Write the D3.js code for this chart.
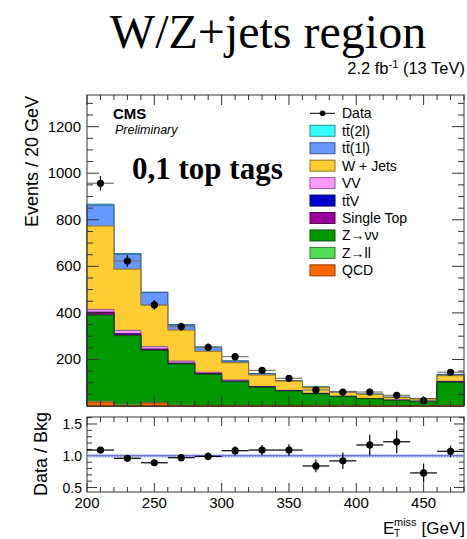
<!DOCTYPE html>
<html>
<head>
<meta charset="utf-8">
<script src="https://cdn.jsdelivr.net/npm/d3@7"></script>
<style>
  body { margin: 0; background: #fff; }
  svg { display: block; font-family: "Liberation Sans", Arial, sans-serif; }
</style>
</head>
<body>
<svg id="chart" width="467" height="539"></svg>
<script>
// bin low edges (GeV), 20 GeV wide
const binEdges = [200, 220, 240, 260, 280, 300, 320, 340, 360, 380, 400, 420, 440, 460, 480];
const dataCounts = [957, 623, 434, 341, 252, 212, 153, 119, 69, 60, 60, 46, 23, 145];
const dataErr = [31, 25, 21, 18, 16, 15, 12, 11, 8, 8, 8, 7, 5, 12];

// stacked backgrounds, bottom first
const qcd   = [17, 3, 13, 2, 1, 1, 1, 0, 0, 0, 0, 0, 0, 1];
const zll   = [7, 6, 4, 3, 2, 2, 2, 1, 1, 1, 1, 0.5, 0.5, 1];
const znn   = [367, 293, 222, 175, 133, 101, 77, 63, 51, 39, 30, 23.5, 17.5, 100];
const stop  = [10, 6, 4, 3, 3, 2, 1, 1, 1, 0.8, 0.5, 0.4, 0.3, 1];
const ttv   = [2, 2, 1, 1, 1, 1, 1, 0.5, 0.5, 0.4, 0.3, 0.3, 0.2, 1];
const vv    = [12, 15, 11, 9, 5, 5, 2, 1.5, 1.5, 1, 0.7, 0.5, 0.5, 2];
const wjets = [358, 263, 179, 133, 90, 74, 49, 40, 24, 17, 17.5, 11, 11, 24];
const tt1l  = [90, 64, 53, 22, 17, 7, 6, 2, 2.5, 3, 1, 1.5, 1.5, 5];
const tt2l  = [4, 3, 2, 2, 2, 1, 1, 0.5, 0.5, 0.5, 0.3, 0.3, 0.3, 1];

const ratioVals = [1.09, 0.96, 0.89, 0.97, 0.99, 1.08, 1.09, 1.09, 0.84, 0.92, 1.17, 1.22, 0.73, 1.07];
const ratioErr  = [0.04, 0.04, 0.04, 0.05, 0.06, 0.07, 0.08, 0.09, 0.1, 0.13, 0.16, 0.18, 0.15, 0.09];

const yTicksMain = [200, 400, 600, 800, 1000, 1200];
const yTicksRatio = [0.5, 1.0, 1.5];
const xTicks = [200, 250, 300, 350, 400, 450];

const stackSeries = [
  { name: "QCD", vals: qcd, color: "#ff6600" },
  { name: "Z\u2192ll", vals: zll, color: "#55dd55" },
  { name: "Z\u2192\u03bd\u03bd", vals: znn, color: "#009900" },
  { name: "Single Top", vals: stop, color: "#990099" },
  { name: "tt\u0304V", vals: ttv, color: "#0000cc" },
  { name: "VV", vals: vv, color: "#ff99ff" },
  { name: "W + Jets", vals: wjets, color: "#ffcc33" },
  { name: "tt\u0304(1l)", vals: tt1l, color: "#6699ff" },
  { name: "tt\u0304(2l)", vals: tt2l, color: "#33ffff" }
];

const svg = d3.select("#chart");
const L = 87, R = 464, mainTop = 95, mainBot = 406, ratTop = 417, ratBot = 492;

const x = d3.scaleLinear().domain([200, 480]).range([L, R]);
const y = d3.scaleLinear().domain([0, 1336]).range([mainBot, mainTop]);
const yr = d3.scaleLinear().domain([0.43, 1.61]).range([ratBot, ratTop]);

const centers = binEdges.slice(0, -1).map(e => e + 10);

// cumulative stack
let cum = new Array(dataCounts.length).fill(0);
const layers = stackSeries.map(s => {
  cum = cum.map((c, i) => c + s.vals[i]);
  return { ...s, top: cum.slice() };
});

const area = d3.area()
  .x(d => x(d.e))
  .y0(mainBot)
  .y1(d => y(d.v))
  .curve(d3.curveStepAfter);

const gStack = svg.append("g");
layers.slice().reverse().forEach(l => {
  const pts = binEdges.map((e, i) => ({ e: e, v: l.top[Math.min(i, l.top.length - 1)] }));
  gStack.append("path")
    .attr("d", area(pts))
    .attr("fill", l.color)
    .attr("stroke", d3.color(l.color).darker(1.6))
    .attr("stroke-width", 1);
});

// data points main
const gData = svg.append("g");
centers.forEach((c, i) => {
  gData.append("line")
    .attr("x1", x(c - 10)).attr("x2", x(c + 10))
    .attr("y1", y(dataCounts[i])).attr("y2", y(dataCounts[i]))
    .attr("stroke", "#777").attr("stroke-width", 1.2);
  gData.append("line")
    .attr("x1", x(c)).attr("x2", x(c))
    .attr("y1", y(dataCounts[i] - dataErr[i])).attr("y2", y(dataCounts[i] + dataErr[i]))
    .attr("stroke", "#000").attr("stroke-width", 1.2);
  gData.append("circle")
    .attr("cx", x(c)).attr("cy", y(dataCounts[i])).attr("r", 3.6).attr("fill", "#000");
});

// frames and ticks
function frame(top, bot) {
  svg.append("rect")
    .attr("x", L).attr("y", top).attr("width", R - L).attr("height", bot - top)
    .attr("fill", "none").attr("stroke", "#333").attr("stroke-width", 1);
}
frame(mainTop, mainBot);
frame(ratTop, ratBot);

function xTickMarks(top, bot, major, minor) {
  for (let v = 200; v <= 480; v += 10) {
    const len = v % 50 === 0 ? major : minor;
    const px = x(v);
    svg.append("line").attr("x1", px).attr("x2", px).attr("y1", bot).attr("y2", bot - len)
      .attr("stroke", "#333");
    svg.append("line").attr("x1", px).attr("x2", px).attr("y1", top).attr("y2", top + len)
      .attr("stroke", "#333");
  }
}
xTickMarks(mainTop, mainBot, 10, 5);
xTickMarks(ratTop, ratBot, 9, 5);

function yTickMarks(scale, lo, hi, step, majorStep, major, minor) {
  for (let v = lo; v <= hi + 1e-9; v += step) {
    const isMajor = Math.abs(v / majorStep - Math.round(v / majorStep)) < 1e-6;
    const len = isMajor ? major : minor;
    const py = scale(v);
    svg.append("line").attr("x1", L).attr("x2", L + len).attr("y1", py).attr("y2", py).attr("stroke", "#333");
    svg.append("line").attr("x1", R).attr("x2", R - len).attr("y1", py).attr("y2", py).attr("stroke", "#333");
  }
}
yTickMarks(y, 50, 1300, 50, 200, 12, 6);
yTickMarks(yr, 0.5, 1.6, 0.1, 0.5, 10, 5);

svg.append("g").selectAll("text").data(yTicksMain).enter().append("text")
  .attr("x", L - 6).attr("y", d => y(d) + 5)
  .attr("text-anchor", "end").style("font-size", "15px").text(d => d);

svg.append("g").selectAll("text").data(yTicksRatio).enter().append("text")
  .attr("x", L - 5).attr("y", d => yr(d) + 5)
  .attr("text-anchor", "end").style("font-size", "14px").text(d => d3.format(".1f")(d));

svg.append("g").selectAll("text").data(xTicks).enter().append("text")
  .attr("x", d => x(d)).attr("y", 508)
  .attr("text-anchor", "middle").style("font-size", "15px").text(d => d);

// ratio panel band and line
const defs = svg.append("defs");
const pat = defs.append("pattern").attr("id", "hatch").attr("patternUnits", "userSpaceOnUse")
  .attr("width", 3).attr("height", 3);
pat.append("rect").attr("width", 3).attr("height", 3).attr("fill", "#dde0fb");
pat.append("rect").attr("width", 1.5).attr("height", 1.5).attr("fill", "#99a3ee");

svg.append("rect")
  .attr("x", L + 0.5).attr("width", R - L - 1)
  .attr("y", yr(1.03)).attr("height", yr(0.97) - yr(1.03))
  .attr("fill", "url(#hatch)");
svg.append("line")
  .attr("x1", L).attr("x2", R).attr("y1", yr(1)).attr("y2", yr(1))
  .attr("stroke", "#5050c8").attr("stroke-width", 1.2);

const gRat = svg.append("g");
centers.forEach((c, i) => {
  gRat.append("line")
    .attr("x1", x(c - 10)).attr("x2", x(c + 10))
    .attr("y1", yr(ratioVals[i])).attr("y2", yr(ratioVals[i]))
    .attr("stroke", "#000").attr("stroke-width", 1.2);
  gRat.append("line")
    .attr("x1", x(c)).attr("x2", x(c))
    .attr("y1", yr(ratioVals[i] - ratioErr[i])).attr("y2", yr(ratioVals[i] + ratioErr[i]))
    .attr("stroke", "#000").attr("stroke-width", 1.2);
  gRat.append("circle")
    .attr("cx", x(c)).attr("cy", yr(ratioVals[i])).attr("r", 3.6).attr("fill", "#000");
});

// axis titles
svg.append("text")
  .attr("transform", "translate(38, 96) rotate(-90)")
  .attr("text-anchor", "end").style("font-size", "18px")
  .text("Events / 20 GeV");
svg.append("text")
  .attr("transform", `translate(47, 454) rotate(-90)`)
  .attr("text-anchor", "middle").style("font-size", "18px")
  .text("Data / Bkg");

svg.append("text").attr("x", 383).attr("y", 534).style("font-size", "17px").text("E");
svg.append("text").attr("x", 394).attr("y", 526).style("font-size", "11px").text("miss");
svg.append("text").attr("x", 394).attr("y", 537).style("font-size", "10px").text("T");
svg.append("text").attr("x", 465).attr("y", 534).attr("text-anchor", "end")
  .style("font-size", "17px").text("[GeV]");

// titles
svg.append("text")
  .attr("x", 268).attr("y", 48).attr("text-anchor", "middle")
  .style("font-family", "'Liberation Serif', 'Times New Roman', serif")
  .style("font-size", "48px").text("W/Z+jets region");

const lumi = svg.append("text")
  .attr("x", 465).attr("y", 74).attr("text-anchor", "end").style("font-size", "16.5px");
lumi.append("tspan").text("2.2 fb");
lumi.append("tspan").attr("dy", -6).style("font-size", "11px").text("-1");
lumi.append("tspan").attr("dy", 6).text(" (13 TeV)");

svg.append("text").attr("x", 113).attr("y", 119)
  .style("font-size", "15px").style("font-weight", "bold").text("CMS");
svg.append("text").attr("x", 115).attr("y", 134)
  .style("font-size", "12.5px").style("font-style", "italic").text("Preliminary");

svg.append("text").attr("x", 132).attr("y", 179)
  .style("font-family", "'Liberation Serif', 'Times New Roman', serif")
  .style("font-size", "31px").style("font-weight", "bold").text("0,1 top tags");

// legend
const legX = 310, legY0 = 113.3, legStep = 17.45;
const leg = svg.append("g");
leg.append("line").attr("x1", legX).attr("x2", legX + 25).attr("y1", legY0).attr("y2", legY0)
  .attr("stroke", "#000").attr("stroke-width", 1);
leg.append("circle").attr("cx", legX + 12.5).attr("cy", legY0).attr("r", 2.8).attr("fill", "#000");
leg.append("text").attr("x", 342).attr("y", legY0 + 5).style("font-size", "14px").text("Data");

layers.slice().reverse().forEach((l, i) => {
  const cy = legY0 + (i + 1) * legStep;
  leg.append("rect")
    .attr("x", legX).attr("y", cy - 5.5).attr("width", 25).attr("height", 11)
    .attr("fill", l.color).attr("stroke", d3.color(l.color).darker(1.6)).attr("stroke-width", 1);
  leg.append("text").attr("x", 342).attr("y", cy + 5).style("font-size", "14px").text(l.name);
});
</script>
</body>
</html>
